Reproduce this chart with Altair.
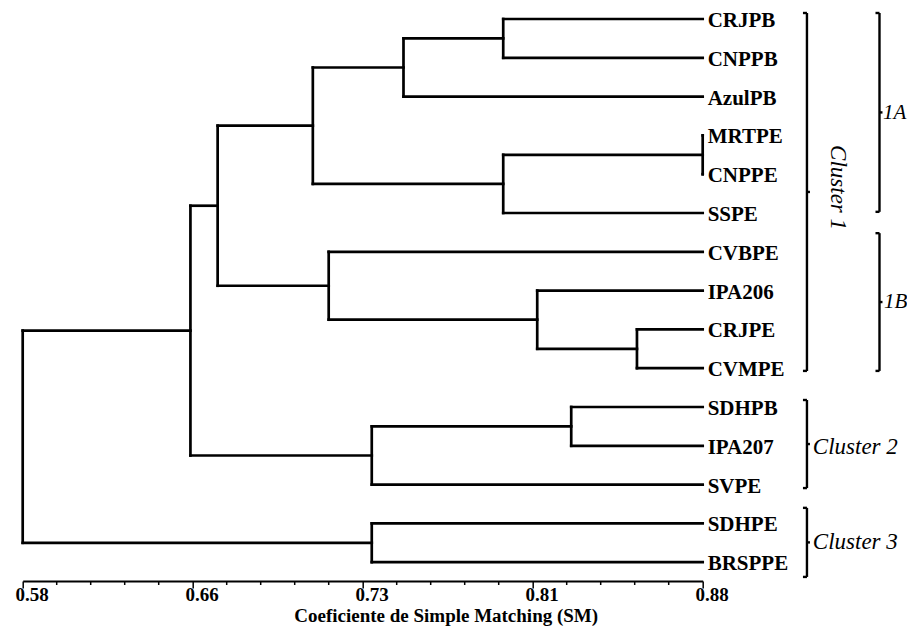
import altair as alt
import pandas as pd

# ---------------- data ----------------
leaves = ["CRJPB", "CNPPB", "AzulPB", "MRTPE", "CNPPE", "SSPE", "CVBPE", "IPA206",
          "CRJPE", "CVMPE", "SDHPB", "IPA207", "SVPE", "SDHPE", "BRSPPE"]

node_ids = ["n1", "n2", "n3", "n4", "n5", "n6", "n7", "n8", "n9", "n10", "n11", "n12", "n13", "n14"]
left_children = ["CRJPB", "n1", "MRTPE", "n3", "n2", "CRJPE", "IPA206", "CVBPE", "n5", "SDHPB", "n10", "n9", "SDHPE", "n12"]
right_children = ["CNPPB", "AzulPB", "CNPPE", "SSPE", "n4", "CVMPE", "n6", "n7", "n8", "IPA207", "SVPE", "n11", "BRSPPE", "n13"]
merge_heights = [0.792, 0.748, 0.880, 0.792, 0.708, 0.851, 0.807, 0.715, 0.666, 0.822, 0.734, 0.654, 0.734, 0.580]

leaf_level = 0.88

major_ticks = [0.58, 0.655, 0.73, 0.805, 0.88]
major_labels = ["0.58", "0.66", "0.73", "0.81", "0.88"]
minor_ticks = [0.595, 0.61, 0.625, 0.64, 0.67, 0.685, 0.70, 0.715,
               0.745, 0.76, 0.775, 0.79, 0.82, 0.835, 0.85, 0.865]

bracket_names = ["Cluster 1", "1A", "1B", "Cluster 2", "Cluster 3"]
bracket_top = [-0.155, -0.155, 5.52, 9.82, 12.60]
bracket_bottom = [9.07, 4.97, 9.07, 12.09, 14.38]
bracket_col = [0.926, 0.958, 0.958, 0.926, 0.926]
label_x = [0.9397, 0.9596, 0.9600, 0.9286, 0.9286]
label_y = [3.25, 2.42, 7.29, 11.03, 13.48]
label_angle = [90, 0, 0, 0, 0]
label_size = [23, 21, 21, 23, 23]

# ---------------- geometry ----------------
W, H = 680, 571
X_DOMAIN = [0.58, 0.88]
Y_DOMAIN = [-0.232, 14.485]
px = (X_DOMAIN[1] - X_DOMAIN[0]) / W  # one pixel in x units

# dendrogram segments
pos = {name: (leaf_level, i) for i, name in enumerate(leaves)}
segs = []
for nid, l, r, h in zip(node_ids, left_children, right_children, merge_heights):
    hl, yl = pos[l]
    hr, yr = pos[r]
    segs.append(dict(x=h, x2=h, y=yl, y2=yr))
    segs.append(dict(x=h, x2=hl, y=yl, y2=yl))
    segs.append(dict(x=h, x2=hr, y=yr, y2=yr))
    pos[nid] = (h, (yl + yr) / 2)
seg_df = pd.DataFrame(segs)

leaf_df = pd.DataFrame({"name": leaves, "y": list(range(len(leaves))), "x": [leaf_level] * len(leaves)})

# brackets
brk = []
hook = 4 * px
tick = 3 * px
for c, t, b in zip(bracket_col, bracket_top, bracket_bottom):
    m = (t + b) / 2
    brk.append(dict(x=c, x2=c, y=t, y2=b))
    brk.append(dict(x=c - hook, x2=c, y=t, y2=t))
    brk.append(dict(x=c - hook, x2=c, y=b, y2=b))
    brk.append(dict(x=c, x2=c + tick, y=m, y2=m))
brk_df = pd.DataFrame(brk)

lab_df = pd.DataFrame({"name": bracket_names, "x": label_x, "y": label_y,
                       "angle": label_angle, "size": label_size})
minor_df = pd.DataFrame({"x": minor_ticks})

label_expr = " : ".join(
    [f"datum.value < {v + 0.001} ? '{s}'" for v, s in zip(major_ticks[:-1], major_labels[:-1])]
) + f" : '{major_labels[-1]}'"

xscale = alt.Scale(domain=X_DOMAIN, nice=False, zero=False)
yscale = alt.Scale(domain=Y_DOMAIN, nice=False, zero=False, reverse=True)

SERIF = "Liberation Serif"

tree = alt.Chart(seg_df).mark_rule(color="black", strokeWidth=2.7, strokeCap="square").encode(
    x=alt.X("x:Q", scale=xscale, axis=alt.Axis(
        values=major_ticks, labelExpr=label_expr, title="Coeficiente de Simple Matching (SM)",
        grid=False, domainColor="black", domainWidth=2, tickColor="black", tickWidth=1.5, tickSize=7,
        labelFont=SERIF, labelFontSize=19, labelFontWeight="bold", labelColor="black",
        labelPadding=-2, labelFlush=False, labelBaseline="top", labelOffset=9,
        titleFont=SERIF, titleFontSize=19, titleFontWeight="bold", titleColor="black",
        titleX=423, titleY=35, titleBaseline="middle", titleAlign="center")),
    x2="x2:Q",
    y=alt.Y("y:Q", scale=yscale, axis=None),
    y2="y2:Q",
)

minor = alt.Chart(minor_df).mark_rule(color="black", strokeWidth=1.5).encode(
    x=alt.X("x:Q", scale=xscale),
    y=alt.value(H),
    y2=alt.value(H + 4),
)

leaf_text = alt.Chart(leaf_df).mark_text(
    align="left", baseline="middle", dx=5, dy=2, font=SERIF, fontSize=21, fontWeight="bold", color="black"
).encode(
    x=alt.X("x:Q", scale=xscale),
    y=alt.Y("y:Q", scale=yscale),
    text="name:N",
)

brackets = alt.Chart(brk_df).mark_rule(color="black", strokeWidth=2.4).encode(
    x=alt.X("x:Q", scale=xscale), x2="x2:Q",
    y=alt.Y("y:Q", scale=yscale), y2="y2:Q",
)

bracket_labels = alt.Chart(lab_df).mark_text(
    align="left", baseline="middle", font=SERIF, fontStyle="italic", color="black"
).encode(
    x=alt.X("x:Q", scale=xscale),
    y=alt.Y("y:Q", scale=yscale),
    angle=alt.Angle("angle:Q", scale=None),
    size=alt.Size("size:Q", scale=None),
    text="name:N",
)

chart = alt.layer(tree, minor, leaf_text, brackets, bracket_labels).properties(
    width=W, height=H,
    autosize=alt.AutoSizeParams(type="none"),
    padding={"left": 14.7, "top": 2, "right": 204, "bottom": 45},
    background="white",
).configure_view(stroke=None)

chart.save("out.html", embed_options={"renderer": "svg", "actions": False})
